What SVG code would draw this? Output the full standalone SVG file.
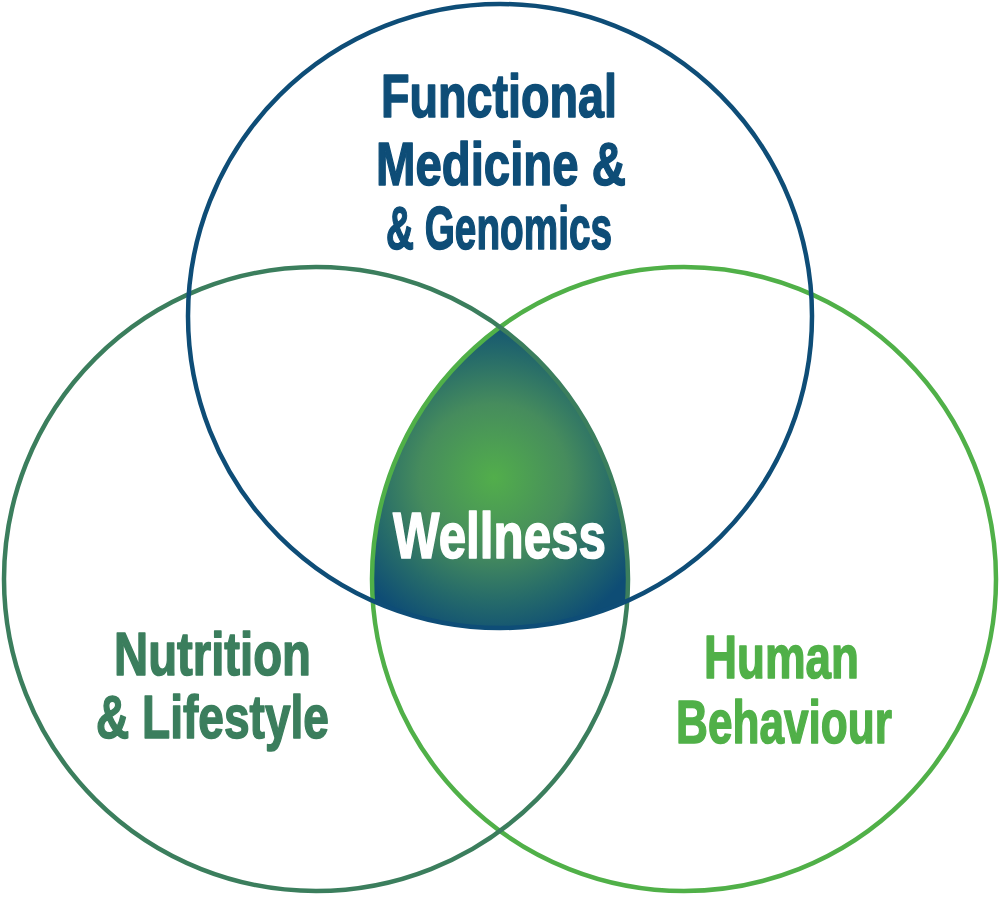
<svg xmlns="http://www.w3.org/2000/svg" width="1000" height="898" viewBox="0 0 1000 898">
  <style>
    .ring { fill: none; stroke-width: 4.5; }
    .lbl { font-family: "Liberation Sans Narrow", "Liberation Sans", Arial, sans-serif; font-weight: bold; text-anchor: middle; stroke-width: 1.6; stroke-linejoin: round; }
  </style>
  <defs>
    <radialGradient id="wellGrad" gradientUnits="userSpaceOnUse" cx="494" cy="478" r="165">
      <stop offset="0" stop-color="#52ae4b"/>
      <stop offset="0.45" stop-color="#468c5d"/>
      <stop offset="0.75" stop-color="#256a6a"/>
      <stop offset="1" stop-color="#0e4d75"/>
    </radialGradient>
  </defs>
  <rect width="1000" height="898" fill="#ffffff"/>

  <g id="wellness">
    <path d="M500,327 A312,312 0 0 0 372.8,600.8 A312,312 0 0 0 627.2,600.8 A312,312 0 0 0 500,327 Z" fill="url(#wellGrad)"/>
    <text class="lbl" x="499.5" y="558" font-size="64" fill="#ffffff" stroke="#ffffff" textLength="213" lengthAdjust="spacingAndGlyphs">Wellness</text>
  </g>

  <g id="human-behaviour">
    <circle class="ring" cx="684" cy="579" r="312" stroke="#50b048"/>
    <text class="lbl" x="781.5" y="678" font-size="62" fill="#50b048" stroke="#50b048" textLength="155" lengthAdjust="spacingAndGlyphs">Human</text>
    <text class="lbl" x="784" y="743" font-size="62" fill="#50b048" stroke="#50b048" textLength="216" lengthAdjust="spacingAndGlyphs">Behaviour</text>
  </g>

  <g id="nutrition-lifestyle">
    <circle class="ring" cx="316" cy="579" r="312" stroke="#3b7e5d"/>
    <text class="lbl" x="212.5" y="675" font-size="62" fill="#3b7e5d" stroke="#3b7e5d" textLength="197" lengthAdjust="spacingAndGlyphs">Nutrition</text>
    <text class="lbl" x="212.5" y="738" font-size="62" fill="#3b7e5d" stroke="#3b7e5d" textLength="233" lengthAdjust="spacingAndGlyphs">&amp; Lifestyle</text>
  </g>

  <g id="functional-medicine">
    <circle class="ring" cx="500" cy="316" r="312" stroke="#0e4d77"/>
    <text class="lbl" x="499" y="117" font-size="62" fill="#0e4d77" stroke="#0e4d77" textLength="236" lengthAdjust="spacingAndGlyphs">Functional</text>
    <text class="lbl" x="501" y="185" font-size="62" fill="#0e4d77" stroke="#0e4d77" textLength="250" lengthAdjust="spacingAndGlyphs">Medicine &amp;</text>
    <text class="lbl" x="499" y="249" font-size="62" fill="#0e4d77" stroke="#0e4d77" textLength="226" lengthAdjust="spacingAndGlyphs">&amp; Genomics</text>
  </g>

  <g id="connectors"></g>
</svg>
